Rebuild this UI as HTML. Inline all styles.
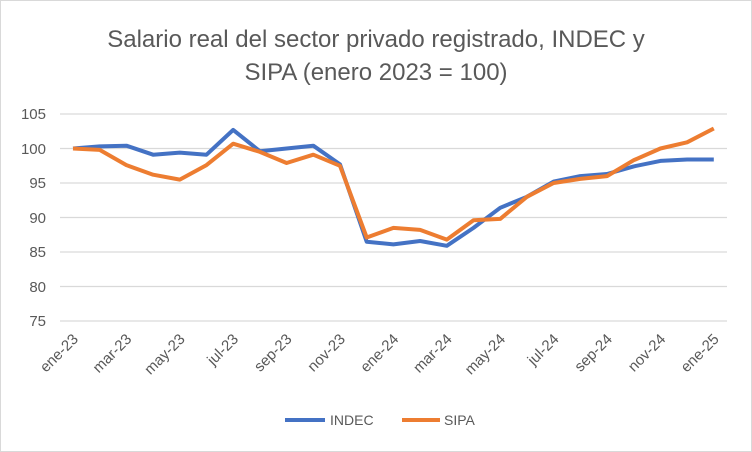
<!DOCTYPE html>
<html><head><meta charset="utf-8"><style>
html,body{margin:0;padding:0;background:#fff}
svg{display:block;font-family:"Liberation Sans",sans-serif}
</style></head><body>
<svg width="752" height="452" viewBox="0 0 752 452" xmlns="http://www.w3.org/2000/svg">
<rect x="0.5" y="0.5" width="751" height="451" fill="#fff" stroke="#d9d9d9"/>
<text x="376" y="47" font-size="24" fill="#595959" text-anchor="middle">Salario real del sector privado registrado, INDEC y</text>
<text x="376" y="80" font-size="24" fill="#595959" text-anchor="middle">SIPA (enero 2023 = 100)</text>
<g stroke="#d9d9d9" stroke-width="1.3">
<line x1="60" x2="727" y1="114" y2="114"/><line x1="60" x2="727" y1="148.5" y2="148.5"/>
<line x1="60" x2="727" y1="183" y2="183"/><line x1="60" x2="727" y1="217.5" y2="217.5"/>
<line x1="60" x2="727" y1="252" y2="252"/><line x1="60" x2="727" y1="286.5" y2="286.5"/>
<line x1="60" x2="727" y1="321" y2="321"/>
</g>
<g font-size="15" fill="#595959" text-anchor="end">
<text x="46" y="119">105</text><text x="46" y="154">100</text><text x="46" y="188">95</text>
<text x="46" y="223">90</text><text x="46" y="257">85</text><text x="46" y="292">80</text><text x="46" y="326">75</text>
</g>
<g font-size="15" fill="#595959" text-anchor="end" id="xl"></g>
<polyline id="indec" fill="none" stroke="#4472c4" stroke-width="4" stroke-linejoin="round"/>
<polyline id="sipa" fill="none" stroke="#ed7d31" stroke-width="4" stroke-linejoin="round"/>
<line x1="285" x2="325" y1="420" y2="420" stroke="#4472c4" stroke-width="4"/>
<text x="330" y="425" font-size="14" fill="#595959">INDEC</text>
<line x1="402" x2="440" y1="420" y2="420" stroke="#ed7d31" stroke-width="4"/>
<text x="444" y="425" font-size="14" fill="#595959">SIPA</text>
</svg>
<script>
var A=[100,100.3,100.4,99.1,99.4,99.1,102.7,99.6,100,100.4,97.7,86.5,86.1,86.6,85.9,88.5,91.4,93,95.2,96,96.3,97.4,98.2,98.4,98.4];
var B=[100,99.8,97.6,96.2,95.5,97.6,100.7,99.5,97.9,99.1,97.5,87.1,88.5,88.2,86.8,89.6,89.8,93,95,95.6,96,98.3,100,100.9,102.9];
function X(i){return 73+i*26.7} function Y(v){return 148.5+(100-v)*6.9}
function pts(a){return a.map(function(v,i){return X(i).toFixed(1)+","+Y(v).toFixed(1)}).join(" ")}
document.getElementById("indec").setAttribute("points",pts(A));
document.getElementById("sipa").setAttribute("points",pts(B));
var L=["ene-23","mar-23","may-23","jul-23","sep-23","nov-23","ene-24","mar-24","may-24","jul-24","sep-24","nov-24","ene-25"];
var g=document.getElementById("xl"),s="";
L.forEach(function(t,k){var x=X(2*k)+6,y=340;s+='<text transform="translate('+x+','+y+') rotate(-45)">'+t+'</text>'});
g.innerHTML=s;
</script>
</body></html>
